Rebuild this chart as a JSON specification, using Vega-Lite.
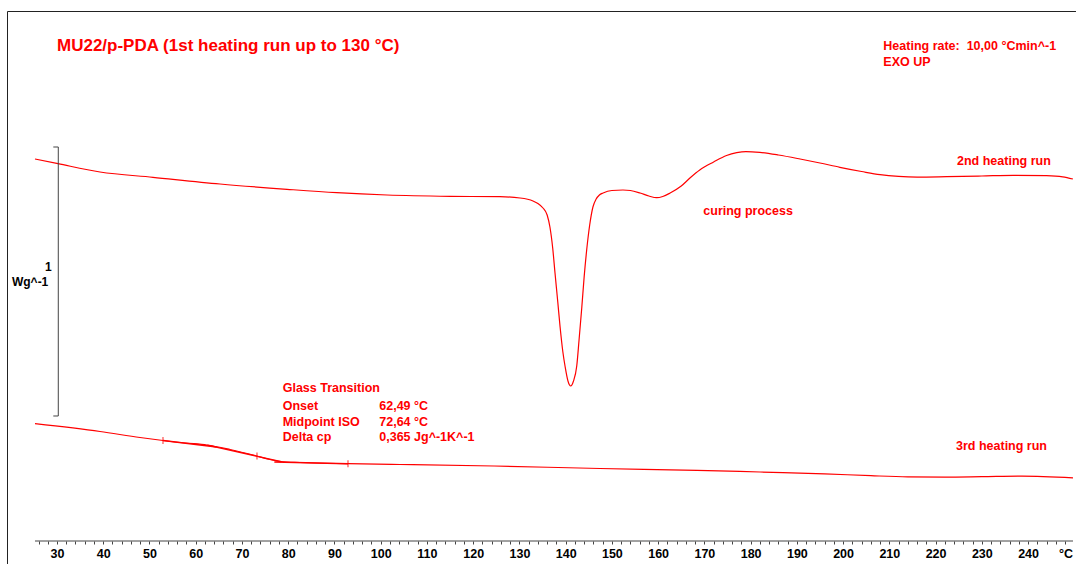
{
  "$schema": "https://vega.github.io/schema/vega-lite/v6.json",
  "width": 1076,
  "height": 541,
  "padding": {"left": 0, "top": 0, "right": 0, "bottom": 23},
  "autosize": {"type": "none"},
  "background": "white",
  "view": {"stroke": null},
  "config": {
    "text": {"font": "Liberation Sans", "fontWeight": "bold"},
    "axisX": {
      "domain": false,
      "grid": false,
      "tickCount": 1000,
      "tickSize": 3,
      "tickColor": "#444444",
      "tickWidth": 1,
      "labelFont": "Liberation Sans",
      "labelFontWeight": "bold",
      "labelFontSize": 12.5,
      "labelColor": "#000000",
      "labelPadding": 3,
      "labelFlush": false,
      "labelOverlap": false
    }
  },
  "datasets": {
    "runs": [
      {"run": "2nd heating run", "T": 25.24, "hf": 0.9554},
      {"run": "2nd heating run", "T": 30.22, "hf": 0.9379},
      {"run": "2nd heating run", "T": 39.30, "hf": 0.9071},
      {"run": "2nd heating run", "T": 50.76, "hf": 0.8874},
      {"run": "2nd heating run", "T": 65.25, "hf": 0.8625},
      {"run": "2nd heating run", "T": 79.74, "hf": 0.8428},
      {"run": "2nd heating run", "T": 90.50, "hf": 0.8301},
      {"run": "2nd heating run", "T": 101.37, "hf": 0.8216},
      {"run": "2nd heating run", "T": 115.00, "hf": 0.8167},
      {"run": "2nd heating run", "T": 125.80, "hf": 0.8152},
      {"run": "2nd heating run", "T": 130.13, "hf": 0.8104},
      {"run": "2nd heating run", "T": 132.94, "hf": 0.7993},
      {"run": "2nd heating run", "T": 134.00, "hf": 0.7900},
      {"run": "2nd heating run", "T": 135.10, "hf": 0.7732},
      {"run": "2nd heating run", "T": 136.00, "hf": 0.7472},
      {"run": "2nd heating run", "T": 136.60, "hf": 0.7026},
      {"run": "2nd heating run", "T": 137.20, "hf": 0.6245},
      {"run": "2nd heating run", "T": 137.70, "hf": 0.5316},
      {"run": "2nd heating run", "T": 138.30, "hf": 0.4238},
      {"run": "2nd heating run", "T": 138.80, "hf": 0.3309},
      {"run": "2nd heating run", "T": 139.40, "hf": 0.2379},
      {"run": "2nd heating run", "T": 139.90, "hf": 0.1822},
      {"run": "2nd heating run", "T": 140.50, "hf": 0.1301},
      {"run": "2nd heating run", "T": 141.10, "hf": 0.1115},
      {"run": "2nd heating run", "T": 141.70, "hf": 0.1301},
      {"run": "2nd heating run", "T": 142.40, "hf": 0.1859},
      {"run": "2nd heating run", "T": 142.90, "hf": 0.2825},
      {"run": "2nd heating run", "T": 143.50, "hf": 0.4052},
      {"run": "2nd heating run", "T": 144.00, "hf": 0.5167},
      {"run": "2nd heating run", "T": 144.55, "hf": 0.6171},
      {"run": "2nd heating run", "T": 145.20, "hf": 0.7100},
      {"run": "2nd heating run", "T": 145.90, "hf": 0.7770},
      {"run": "2nd heating run", "T": 146.60, "hf": 0.8067},
      {"run": "2nd heating run", "T": 147.30, "hf": 0.8216},
      {"run": "2nd heating run", "T": 148.10, "hf": 0.8290},
      {"run": "2nd heating run", "T": 150.00, "hf": 0.8383},
      {"run": "2nd heating run", "T": 152.40, "hf": 0.8401},
      {"run": "2nd heating run", "T": 154.00, "hf": 0.8383},
      {"run": "2nd heating run", "T": 156.10, "hf": 0.8290},
      {"run": "2nd heating run", "T": 158.00, "hf": 0.8178},
      {"run": "2nd heating run", "T": 159.70, "hf": 0.8115},
      {"run": "2nd heating run", "T": 161.00, "hf": 0.8160},
      {"run": "2nd heating run", "T": 162.60, "hf": 0.8290},
      {"run": "2nd heating run", "T": 165.00, "hf": 0.8550},
      {"run": "2nd heating run", "T": 167.00, "hf": 0.8866},
      {"run": "2nd heating run", "T": 169.00, "hf": 0.9145},
      {"run": "2nd heating run", "T": 172.00, "hf": 0.9442},
      {"run": "2nd heating run", "T": 174.80, "hf": 0.9684},
      {"run": "2nd heating run", "T": 177.00, "hf": 0.9790},
      {"run": "2nd heating run", "T": 179.00, "hf": 0.9830},
      {"run": "2nd heating run", "T": 182.00, "hf": 0.9800},
      {"run": "2nd heating run", "T": 186.00, "hf": 0.9703},
      {"run": "2nd heating run", "T": 190.70, "hf": 0.9554},
      {"run": "2nd heating run", "T": 195.00, "hf": 0.9405},
      {"run": "2nd heating run", "T": 199.30, "hf": 0.9245},
      {"run": "2nd heating run", "T": 204.00, "hf": 0.9089},
      {"run": "2nd heating run", "T": 208.00, "hf": 0.8970},
      {"run": "2nd heating run", "T": 212.00, "hf": 0.8905},
      {"run": "2nd heating run", "T": 216.00, "hf": 0.8880},
      {"run": "2nd heating run", "T": 222.40, "hf": 0.8896},
      {"run": "2nd heating run", "T": 230.00, "hf": 0.8922},
      {"run": "2nd heating run", "T": 236.80, "hf": 0.8948},
      {"run": "2nd heating run", "T": 244.00, "hf": 0.8933},
      {"run": "2nd heating run", "T": 247.50, "hf": 0.8892},
      {"run": "2nd heating run", "T": 249.70, "hf": 0.8810},
      {"run": "3rd heating run", "T": 25.24, "hf": -0.0286},
      {"run": "3rd heating run", "T": 39.30, "hf": -0.0576},
      {"run": "3rd heating run", "T": 47.95, "hf": -0.0799},
      {"run": "3rd heating run", "T": 52.92, "hf": -0.0911},
      {"run": "3rd heating run", "T": 57.68, "hf": -0.1004},
      {"run": "3rd heating run", "T": 62.44, "hf": -0.1078},
      {"run": "3rd heating run", "T": 67.41, "hf": -0.1245},
      {"run": "3rd heating run", "T": 72.82, "hf": -0.1468},
      {"run": "3rd heating run", "T": 76.06, "hf": -0.1617},
      {"run": "3rd heating run", "T": 78.44, "hf": -0.1691},
      {"run": "3rd heating run", "T": 82.55, "hf": -0.1729},
      {"run": "3rd heating run", "T": 92.93, "hf": -0.1773},
      {"run": "3rd heating run", "T": 104.18, "hf": -0.1803},
      {"run": "3rd heating run", "T": 124.51, "hf": -0.1859},
      {"run": "3rd heating run", "T": 147.43, "hf": -0.1952},
      {"run": "3rd heating run", "T": 168.41, "hf": -0.2019},
      {"run": "3rd heating run", "T": 182.04, "hf": -0.2082},
      {"run": "3rd heating run", "T": 196.00, "hf": -0.2150},
      {"run": "3rd heating run", "T": 206.00, "hf": -0.2220},
      {"run": "3rd heating run", "T": 214.00, "hf": -0.2262},
      {"run": "3rd heating run", "T": 222.00, "hf": -0.2270},
      {"run": "3rd heating run", "T": 230.00, "hf": -0.2255},
      {"run": "3rd heating run", "T": 238.69, "hf": -0.2235},
      {"run": "3rd heating run", "T": 249.72, "hf": -0.2297}
    ],
    "tangents": [
      {"seg": "baseline before", "T": 52.92, "hf": -0.0911},
      {"seg": "baseline before", "T": 64.50, "hf": -0.1150},
      {"seg": "inflection", "T": 62.49, "hf": -0.1085},
      {"seg": "inflection", "T": 78.50, "hf": -0.1700},
      {"seg": "baseline after", "T": 77.00, "hf": -0.1712},
      {"seg": "baseline after", "T": 92.93, "hf": -0.1773}
    ],
    "limits": [
      {"T": 52.92, "hf": -0.0911},
      {"T": 73.25, "hf": -0.1490},
      {"T": 92.93, "hf": -0.1773}
    ],
    "notes": [
      {"T": 208.70, "hf": 1.3773, "text": "Heating rate:\u00a0 10,00 °Cmin^-1"},
      {"T": 208.70, "hf": 1.3160, "text": "EXO UP"},
      {"T": 224.64, "hf": 0.9491, "text": "2nd heating run"},
      {"T": 169.77, "hf": 0.7632, "text": "curing process"},
      {"T": 224.42, "hf": -0.1115, "text": "3rd heating run"},
      {"T": 78.81, "hf": 0.1045, "text": "Glass Transition"},
      {"T": 78.81, "hf": 0.0383, "text": "Onset"},
      {"T": 78.81, "hf": -0.0212, "text": "Midpoint ISO"},
      {"T": 78.81, "hf": -0.0788, "text": "Delta cp"},
      {"T": 99.70, "hf": 0.0383, "text": "62,49 °C"},
      {"T": 99.70, "hf": -0.0212, "text": "72,64 °C"},
      {"T": 99.70, "hf": -0.0788, "text": "0,365 Jg^-1K^-1"}
    ],
    "unitLabels": [
      {"T": 28.84, "hf": 0.5524, "text": "1"},
      {"T": 28.12, "hf": 0.4967, "text": "Wg^-1"}
    ],
    "one": [{}]
  },
  "layer": [
    {
      "data": {"name": "runs"},
      "mark": {"type": "line", "color": "#ff0000", "strokeWidth": 1.2, "interpolate": "monotone"},
      "encoding": {
        "x": {
          "field": "T", "type": "quantitative",
          "scale": {"domain": [17.673, 250.37], "nice": false, "zero": false},
          "axis": {
            "orient": "bottom",
            "title": null,
            "format": "d",
            "tickCount": 1000,
            "values": [26,28,30,32,34,36,38,40,42,44,46,48,50,52,54,56,58,60,62,64,66,68,70,72,74,76,78,80,82,84,86,88,90,92,94,96,98,100,102,104,106,108,110,112,114,116,118,120,122,124,126,128,130,132,134,136,138,140,142,144,146,148,150,152,154,156,158,160,162,164,166,168,170,172,174,176,178,180,182,184,186,188,190,192,194,196,198,200,202,204,206,208,210,212,214,216,218,220,222,224,226,228,230,232,234,236,238,240,242,244,246,248],
            "labelExpr": "datum.value % 10 === 0 && datum.value >= 30 && datum.value <= 240 ? datum.label : ''"
          }
        },
        "y": {"field": "hf", "type": "quantitative", "scale": {"domain": [-0.4647, 1.5465], "nice": false, "zero": false}, "axis": null},
        "detail": {"field": "run"}
      }
    },
    {
      "data": {"name": "one"},
      "mark": {"type": "rule", "color": "#222222", "strokeWidth": 1},
      "encoding": {
        "x": {"datum": 19.295, "type": "quantitative", "title": null},
        "x2": {"datum": 250.37},
        "y": {"datum": 1.5037, "type": "quantitative", "axis": null}
      }
    },
    {
      "data": {"name": "one"},
      "mark": {"type": "rule", "color": "#222222", "strokeWidth": 1},
      "encoding": {
        "x": {"datum": 19.295, "type": "quantitative", "title": null},
        "y": {"datum": 1.5037, "type": "quantitative", "axis": null},
        "y2": {"datum": -0.5502}
      }
    },
    {
      "data": {"name": "one"},
      "mark": {"type": "rule", "color": "#444444", "strokeWidth": 1},
      "encoding": {
        "x": {"datum": 30.28, "type": "quantitative", "title": null},
        "y": {"datum": 0, "type": "quantitative", "axis": null},
        "y2": {"datum": 1}
      }
    },
    {
      "data": {"name": "one"},
      "mark": {"type": "rule", "color": "#444444", "strokeWidth": 1},
      "encoding": {
        "x": {"datum": 29.2, "type": "quantitative", "title": null},
        "x2": {"datum": 30.28},
        "y": {"datum": 1, "type": "quantitative", "axis": null}
      }
    },
    {
      "data": {"name": "one"},
      "mark": {"type": "rule", "color": "#444444", "strokeWidth": 1},
      "encoding": {
        "x": {"datum": 29.2, "type": "quantitative", "title": null},
        "x2": {"datum": 30.28},
        "y": {"datum": 0, "type": "quantitative", "axis": null}
      }
    },
    {
      "data": {"name": "one"},
      "mark": {"type": "rule", "color": "#444444", "strokeWidth": 1},
      "encoding": {
        "x": {"datum": 25.24, "type": "quantitative", "title": null},
        "x2": {"datum": 249.72},
        "y": {"datum": -0.4647, "type": "quantitative", "axis": null}
      }
    },
    {
      "data": {"name": "tangents"},
      "mark": {"type": "line", "color": "#ff0000", "strokeWidth": 1.4},
      "encoding": {
        "x": {"field": "T", "type": "quantitative", "title": null},
        "y": {"field": "hf", "type": "quantitative", "axis": null},
        "detail": {"field": "seg"}
      }
    },
    {
      "data": {"name": "limits"},
      "mark": {"type": "tick", "orient": "vertical", "color": "#ff0000", "size": 7, "thickness": 1.2},
      "encoding": {
        "x": {"field": "T", "type": "quantitative", "title": null},
        "y": {"field": "hf", "type": "quantitative", "axis": null}
      }
    },
    {
      "data": {"name": "one"},
      "mark": {"type": "text", "text": "MU22/p-PDA (1st heating run up to 130 °C)", "color": "#ff0000", "fontSize": 17, "align": "left", "baseline": "middle"},
      "encoding": {
        "x": {"datum": 30, "type": "quantitative", "title": null},
        "y": {"datum": 1.3766, "type": "quantitative", "axis": null}
      }
    },
    {
      "data": {"name": "notes"},
      "mark": {"type": "text", "color": "#ff0000", "fontSize": 12.5, "align": "left", "baseline": "middle"},
      "encoding": {
        "x": {"field": "T", "type": "quantitative", "title": null},
        "y": {"field": "hf", "type": "quantitative", "axis": null},
        "text": {"field": "text"}
      }
    },
    {
      "data": {"name": "unitLabels"},
      "mark": {"type": "text", "color": "#000000", "fontSize": 12, "align": "right", "baseline": "middle"},
      "encoding": {
        "x": {"field": "T", "type": "quantitative", "title": null},
        "y": {"field": "hf", "type": "quantitative", "axis": null},
        "text": {"field": "text"}
      }
    },
    {
      "data": {"name": "one"},
      "mark": {"type": "text", "text": "°C", "color": "#000000", "fontSize": 12.5, "align": "center", "baseline": "middle"},
      "encoding": {
        "x": {"datum": 248.2, "type": "quantitative", "title": null},
        "y": {"datum": -0.5119, "type": "quantitative", "axis": null}
      }
    }
  ]
}
